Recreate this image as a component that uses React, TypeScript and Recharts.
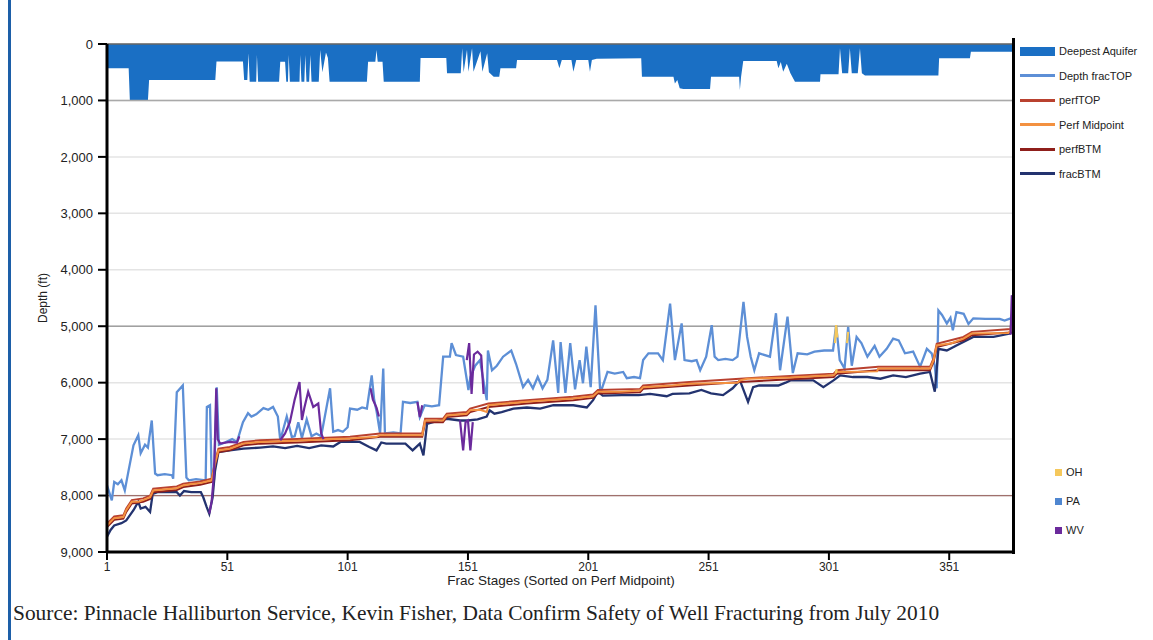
import React from "react";
import {
  Area,
  CartesianGrid,
  ComposedChart,
  Line,
  ReferenceLine,
  XAxis,
  YAxis,
} from "recharts";

type Pt = [number, number];

const STAGE_TICKS = [1, 51, 101, 151, 201, 251, 301, 351];
const DEPTH_TICKS = [0, 1000, 2000, 3000, 4000, 5000, 6000, 7000, 8000, 9000];

// [stage, depth ft]
const aquifer: Pt[] = [
  [1, 430], [10, 430], [10.5, 1000], [18, 1000], [18.5, 640], [46, 640], [46.5, 310],
  [57.5, 310], [58, 640], [59.3, 640], [59.8, 165], [60.3, 668], [63, 668], [63.3, 195],
  [63.8, 668], [72.5, 668], [73, 313], [75, 313], [75.5, 668], [76.2, 668], [76.5, 195],
  [77, 668], [81, 668], [81.3, 195], [81.8, 668], [83, 668], [83.4, 195], [83.9, 668],
  [85, 668], [85.5, 195], [86, 668], [89, 668], [89.6, 106], [90.5, 500], [92, 150],
  [92.8, 250], [93.5, 668], [109, 668], [109.5, 313], [112.5, 313], [113, 106],
  [113.5, 313], [115.5, 313], [116, 668], [131, 668], [131.3, 250], [142, 250],
  [142.3, 520], [148, 520], [148.6, 77], [149.2, 500], [150.6, 100], [151.2, 490],
  [152.7, 77], [153.3, 490], [156.2, 130], [157, 490], [159, 165], [159.7, 500],
  [161.7, 580], [164, 580], [164.5, 431], [171, 431], [171.4, 284], [188, 284],
  [189, 431], [190, 284], [194, 284], [194.8, 490], [196, 284], [201, 284], [201.7, 490],
  [202.5, 284], [204.5, 260], [223, 254], [223.3, 579], [236.4, 579], [237, 700],
  [238, 640], [239, 786], [240.5, 798], [251.6, 798], [252, 579], [263.7, 579],
  [264, 815], [264.5, 579], [265.4, 301], [279.3, 301], [280, 431], [281, 320],
  [282, 490], [283.5, 350], [285, 520], [286.9, 668], [297.3, 668], [297.5, 537],
  [305, 537], [305.6, 77], [306.5, 520], [309, 520], [309.7, 77], [310.5, 520],
  [313, 520], [313.9, 77], [314.7, 520], [316, 560], [346.5, 560], [346.8, 254],
  [359.6, 254], [360, 136], [377.5, 136],
];

const fracTop: Pt[] = [
  [1, 7820], [3, 8085], [4, 7760], [5.5, 7800], [7, 7730], [8.4, 7910], [10, 7550],
  [12, 7110], [14, 6930], [15, 7250], [16.8, 7100], [18, 7150], [19.6, 6670], [21, 7610],
  [22, 7640], [25, 7620], [28, 7640], [28.5, 7700], [30, 6170], [32.5, 6050], [34, 7680],
  [35, 7730], [38, 7710], [42, 7730], [42.5, 6430], [43.8, 6400], [44.5, 7700],
  [45.5, 7700], [46.6, 6080], [47.5, 7100], [50, 7060], [53, 7000], [55, 7050],
  [57.5, 6700], [59.6, 6540], [61, 6600], [63, 6560], [66, 6450], [68, 6480], [70, 6430],
  [72, 6600], [73, 7020], [75.7, 6600], [77.8, 6960], [79, 6950], [80.5, 6700],
  [82, 6980], [84, 6650], [86, 6950], [88, 6900], [90, 6950], [93.7, 6100], [95, 6870],
  [97, 6840], [99, 6870], [101, 6790], [102, 6460], [105, 6480], [107, 6440], [109, 6460],
  [111, 5870], [112, 6300], [113, 6500], [114.5, 6900], [115.8, 5750], [116.5, 6900],
  [120, 6880], [123, 6900], [124, 6340], [127, 6360], [130, 6340], [131, 6610], [133, 6400],
  [136, 6420], [139, 6400], [140.7, 5540], [143.5, 5540], [144.2, 5300], [146, 5510],
  [149, 5540], [151.2, 6130], [152, 5900], [154, 5700], [156, 5600], [158.8, 6310],
  [159.3, 5430], [161, 5780], [163, 5700], [165.6, 5540], [169, 5430], [171, 5670],
  [173.9, 6080], [176, 5950], [178, 6100], [180, 5900], [182, 6100], [184, 5950],
  [186.4, 5250], [188.5, 6180], [189.5, 5280], [191.5, 6180], [193.5, 5300],
  [195.5, 6120], [197.4, 5600], [198.8, 6010], [200.2, 5360], [202, 6080], [204, 4630],
  [206, 6190], [209, 5810], [212, 5840], [215.5, 5810], [217, 5920], [220, 5900],
  [222.5, 5920], [223.8, 5600], [226, 5480], [230, 5480], [232, 5600], [235, 4600],
  [237, 5600], [239.8, 4950], [241, 5600], [244, 5620], [246, 5600], [247.5, 5780],
  [250, 5540], [252.3, 4980], [253.5, 5540], [255, 5600], [258, 5580], [261, 5600],
  [263, 5540], [265.5, 4570], [267, 5190], [268.5, 5540], [270, 5780], [272, 5480],
  [276.5, 5540], [279, 4770], [280.7, 5780], [283.8, 4830], [286, 5830], [288, 5480],
  [292, 5500], [295, 5450], [299, 5430], [302.7, 5430], [304, 4980], [305.5, 5600],
  [307.5, 5750], [309, 5010], [310.5, 5700], [312.5, 5190], [314.5, 5300], [317, 5540],
  [320, 5350], [322, 5540], [325, 5400], [327.7, 5220], [330, 5250], [332.6, 5480],
  [336, 5450], [338.9, 5720], [341.7, 5400], [343.7, 5480], [345, 5700], [345.8, 6100],
  [346.5, 4720], [348, 4800], [350, 4950], [351.5, 4850], [352.5, 5070], [354, 4750],
  [357, 4780], [359, 4960], [361, 4860], [366, 4870], [372, 4870], [374, 4900],
  [376.5, 4860],
];

const perfTop: Pt[] = [
  [1, 8500], [4, 8370], [7.8, 8350], [9, 8230], [11.3, 8080], [16, 8050], [18.9, 8000],
  [20.2, 7880], [30, 7840], [32.7, 7790], [39.7, 7750], [44.5, 7700], [45.9, 7400],
  [47.3, 7170], [52, 7140], [57.7, 7050], [64.6, 7020], [80, 7000], [102, 6960],
  [114.5, 6900], [132, 6900], [133.2, 6640], [140.6, 6640], [142.2, 6550], [150.5, 6520],
  [151.9, 6460], [159.5, 6370], [175.4, 6310], [194.7, 6250], [203, 6210], [205, 6130],
  [222.5, 6110], [223.8, 6050], [243, 5990], [264, 5930], [285, 5880], [303, 5840],
  [304.3, 5780], [321.5, 5720], [343, 5720], [344.5, 5570], [345.8, 5310], [356.9, 5190],
  [360.4, 5100], [376.5, 5050], [377.3, 4650],
];

const perfMid: Pt[] = [
  [1, 8530], [4, 8400], [7.8, 8380], [9, 8260], [11.3, 8110], [14, 8110], [16, 8080],
  [18.9, 8030], [20.2, 7910], [30, 7870], [32.7, 7820], [35.5, 7800], [39.7, 7780],
  [44.5, 7730], [45.9, 7430], [47.3, 7200], [52, 7170], [57.7, 7080], [64.6, 7050],
  [80, 7030], [95, 7000], [102, 6990], [113, 6960], [114.5, 6930], [132, 6930],
  [133.2, 6670], [140.6, 6670], [142.2, 6580], [150.5, 6550], [151.9, 6490], [156, 6480],
  [158.8, 6520], [159.5, 6400], [167, 6370], [175.4, 6340], [183.7, 6310], [194.7, 6280],
  [203, 6240], [205, 6160], [214, 6160], [222.5, 6140], [223.8, 6080], [236, 6050],
  [243, 6020], [263, 6000], [264, 5960], [267, 5930], [285, 5910], [303, 5870],
  [304.3, 5810], [321, 5800], [321.5, 5750], [343, 5750], [344.5, 5600], [345.8, 5340],
  [352, 5300], [356.9, 5220], [360.4, 5130], [375.5, 5120], [376.5, 5080], [377.3, 4700],
];

const perfBtm: Pt[] = [
  [1, 8560], [4, 8430], [7.8, 8410], [9, 8290], [11.3, 8140], [16, 8110], [18.9, 8060],
  [20.2, 7940], [30, 7900], [32.7, 7850], [39.7, 7810], [44.5, 7760], [45.9, 7460],
  [47.3, 7230], [52, 7200], [57.7, 7110], [64.6, 7080], [80, 7060], [102, 7020],
  [114.5, 6960], [132, 6960], [133.2, 6700], [140.6, 6700], [142.2, 6610], [150.5, 6580],
  [151.9, 6520], [159.5, 6430], [175.4, 6370], [194.7, 6310], [203, 6270], [205, 6190],
  [222.5, 6170], [223.8, 6110], [243, 6050], [264, 5990], [285, 5940], [303, 5900],
  [304.3, 5840], [321.5, 5780], [343, 5780], [344.5, 5630], [345.8, 5370], [356.9, 5250],
  [360.4, 5160], [376.5, 5110], [377.3, 4750],
];

const fracBtm: Pt[] = [
  [1, 8730], [2.5, 8610], [4, 8530], [7, 8490], [9, 8440], [12, 8260], [14, 8110],
  [15, 8230], [17, 8200], [18.9, 8290], [20, 7970], [22, 7940], [30, 7940], [31.3, 8000],
  [33, 7920], [36, 7940], [40, 7940], [41, 8030], [42.4, 8200], [43.5, 8320],
  [44.9, 8030], [45.9, 7560], [47.3, 7230], [52, 7200], [57.7, 7170], [64.6, 7150],
  [70, 7130], [75, 7160], [80, 7120], [85, 7160], [90, 7110], [95, 7130], [98, 7050],
  [106, 7050], [110, 7140], [113, 7200], [115, 7060], [117, 7080], [125, 7080],
  [128, 7200], [131, 7080], [132.5, 7290], [134, 6730], [139, 6670], [142.2, 6640],
  [147.7, 6670], [151, 6670], [155, 6650], [158.8, 6600], [160, 6490], [162, 6550],
  [165, 6520], [169.9, 6460], [175.5, 6440], [181, 6460], [186.5, 6400], [194.8, 6400],
  [200.4, 6440], [203, 6310], [205, 6160], [207, 6230], [215, 6220], [222, 6220],
  [226.7, 6200], [233.6, 6240], [236, 6200], [243, 6190], [248, 6130], [252, 6190],
  [257, 6220], [261, 6100], [264, 5960], [267.4, 6340], [269.5, 6080], [272, 6050],
  [280, 6050], [283, 6000], [285, 5960], [294.5, 5960], [298.7, 6080], [302.9, 5960],
  [305.7, 5870], [311, 5900], [317, 5900], [322.4, 5930], [327.7, 5870], [333, 5900],
  [338.9, 5840], [343, 5810], [345, 6160], [346.5, 5400], [350, 5430], [354, 5340],
  [361, 5190], [369.4, 5190], [376.3, 5130], [377, 5100],
];

// WV wells drawn in purple, OH wells in yellow
const wvSegments: Pt[][] = [
  [[43.5, 8320], [44.5, 8100], [45.5, 7600], [46.4, 6100], [47, 7000], [48, 7080], [52, 7050], [55, 7060], [56, 6950]],
  [[73, 7020], [75, 6900], [77, 6700], [79, 6300], [81, 5990], [82, 6660], [83, 6450], [84.6, 6160], [86.7, 6430], [88.8, 6370], [90, 6900], [91, 7000]],
  [[110.5, 6100], [111.5, 6300], [113, 6440], [114, 6600]],
  [[130, 6340], [131, 6610], [132, 6400]],
  [[150.5, 5600], [151.5, 5300], [152.5, 6200], [153.5, 5500], [155, 5450], [156.5, 5520], [157.5, 6200]],
  [[147.7, 6670], [149, 7200], [150, 6700], [151, 6670], [152, 7200], [153, 6700]],
  [[376.5, 5150], [377, 4450], [377.3, 4700]],
];

const ohSegments: Pt[][] = [
  [[303.5, 5300], [304, 4980], [304.5, 5200]],
  [[308.5, 5300], [309, 5100]],
  [[303.8, 5830], [304.3, 5760]],
];

const SERIES_LEGEND = [
  { name: "Deepest Aquifer", color: "#1a6fc4", block: true },
  { name: "Depth fracTOP", color: "#5d8fd6", block: false },
  { name: "perfTOP", color: "#b9412f", block: false },
  { name: "Perf Midpoint", color: "#f39140", block: false },
  { name: "perfBTM", color: "#8f1f1b", block: false },
  { name: "fracBTM", color: "#23336f", block: false },
];

const STATE_LEGEND = [
  { name: "OH", color: "#f5c85c" },
  { name: "PA", color: "#4f86d0" },
  { name: "WV", color: "#6b2a9c" },
];

const rows = (pts: Pt[]) => pts.map(([s, d]) => ({ s, d }));
const fmt = (v: number) => v.toLocaleString("en-US");
const FONT = '"Liberation Sans", Arial, sans-serif';

export default function App() {
  const c = Object.fromEntries(SERIES_LEGEND.map((l) => [l.name, l.color]));
  const lineProps = {
    dataKey: "d",
    dot: false,
    activeDot: false,
    isAnimationActive: false,
    type: "linear" as const,
  };

  return (
    <div style={{ position: "absolute", left: 0, top: 0, width: 1153, height: 640, background: "#fff", fontFamily: FONT }}>
      <div style={{ position: "absolute", left: 8, top: 0, width: 3, height: 640, background: "#1d5fa8" }} />
      <ComposedChart width={1153} height={640} margin={{ top: 44, right: 140, bottom: 58, left: 47 }}>
        <CartesianGrid vertical={false} stroke="#e4e4e4" strokeWidth={1.5} />
        <XAxis
          dataKey="s"
          type="number"
          domain={[1, 377.5]}
          ticks={STAGE_TICKS}
          allowDataOverflow
          height={30}
          tickSize={8}
          tickMargin={2}
          axisLine={{ stroke: "#000", strokeWidth: 3 }}
          tickLine={{ stroke: "#000", strokeWidth: 2 }}
          tick={{ fill: "#222", fontSize: 12, fontFamily: FONT }}
        />
        <YAxis
          type="number"
          reversed
          domain={[0, 9000]}
          ticks={DEPTH_TICKS}
          allowDataOverflow
          width={60}
          tickSize={9}
          tickMargin={5}
          tickFormatter={fmt}
          axisLine={{ stroke: "#000", strokeWidth: 3 }}
          tickLine={{ stroke: "#000", strokeWidth: 2 }}
          tick={{ fill: "#222", fontSize: 13, fontFamily: FONT }}
        />
        <ReferenceLine y={0} stroke="#666" strokeWidth={1.5} />
        <ReferenceLine y={1000} stroke="#a9a9a9" strokeWidth={1.5} />
        <ReferenceLine y={5000} stroke="#a0a0a0" strokeWidth={1.5} />
        <ReferenceLine y={8000} stroke="#a0706c" strokeWidth={1.2} />
        <Area
          data={rows(aquifer)}
          dataKey="d"
          type="linear"
          baseValue={0}
          fill={c["Deepest Aquifer"]}
          fillOpacity={1}
          stroke="none"
          isAnimationActive={false}
        />
        <Line {...lineProps} data={rows(fracTop)} stroke={c["Depth fracTOP"]} strokeWidth={2.3} />
        <Line {...lineProps} data={rows(fracBtm)} stroke={c["fracBTM"]} strokeWidth={2.3} />
        <Line {...lineProps} data={rows(perfBtm)} stroke={c["perfBTM"]} strokeWidth={2} />
        <Line {...lineProps} data={rows(perfTop)} stroke={c["perfTOP"]} strokeWidth={2} />
        <Line {...lineProps} data={rows(perfMid)} stroke={c["Perf Midpoint"]} strokeWidth={2} />
        {wvSegments.map((seg, i) => (
          <Line key={"wv" + i} {...lineProps} data={rows(seg)} stroke="#6b2a9c" strokeWidth={2.2} />
        ))}
        {ohSegments.map((seg, i) => (
          <Line key={"oh" + i} {...lineProps} data={rows(seg)} stroke="#f5c85c" strokeWidth={2.2} />
        ))}
      </ComposedChart>

      <div style={{ position: "absolute", left: 1012, top: 38, width: 2.5, height: 516, background: "#000" }} />

      <div
        style={{
          position: "absolute",
          left: 43,
          top: 298,
          transform: "translate(-50%, -50%) rotate(-90deg)",
          fontSize: 12,
          color: "#222",
          whiteSpace: "nowrap",
        }}
      >
        Depth (ft)
      </div>
      <div
        style={{
          position: "absolute",
          left: 561,
          top: 580,
          transform: "translate(-50%, -50%)",
          fontSize: 13.5,
          color: "#222",
          whiteSpace: "nowrap",
        }}
      >
        Frac Stages (Sorted on Perf Midpoint)
      </div>

      {SERIES_LEGEND.map((l, i) => (
        <div key={l.name} style={{ position: "absolute", left: 1020, top: 51 + i * 24.5, display: "flex", alignItems: "center", transform: "translateY(-50%)" }}>
          <span style={{ width: 35, height: l.block ? 9 : 3, background: l.color, display: "inline-block" }} />
          <span style={{ marginLeft: 4, fontSize: 11, color: "#222", whiteSpace: "nowrap" }}>{l.name}</span>
        </div>
      ))}
      {STATE_LEGEND.map((l, i) => (
        <div key={l.name} style={{ position: "absolute", left: 1055, top: 472 + i * 29, display: "flex", alignItems: "center", transform: "translateY(-50%)" }}>
          <span style={{ width: 7, height: 7, background: l.color, display: "inline-block" }} />
          <span style={{ marginLeft: 4, fontSize: 11, color: "#222" }}>{l.name}</span>
        </div>
      ))}

      <div
        style={{
          position: "absolute",
          left: 13,
          top: 601,
          fontFamily: '"Liberation Serif", "Times New Roman", serif',
          fontSize: 21.4,
          color: "#222",
          whiteSpace: "nowrap",
        }}
      >
        Source: Pinnacle Halliburton Service, Kevin Fisher, Data Confirm Safety of Well Fracturing from July 2010
      </div>
    </div>
  );
}
